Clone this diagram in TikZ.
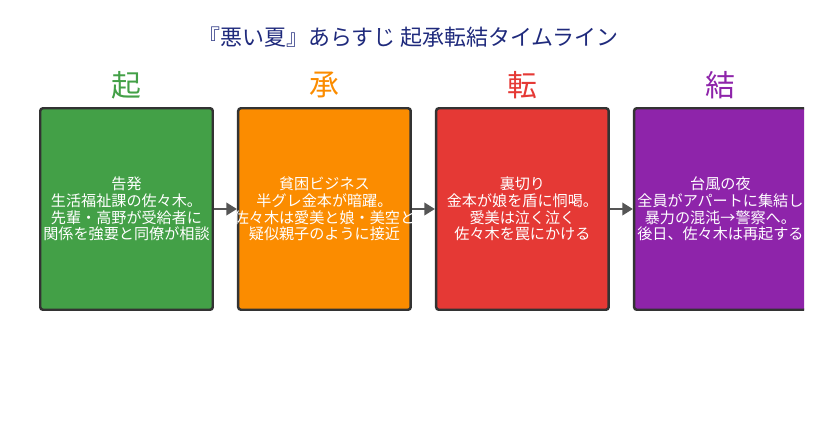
\documentclass[tikz,border=0pt]{standalone}
\usepackage{fontspec}
\setmainfont{Noto Sans CJK JP}
\usetikzlibrary{positioning}
\usetikzlibrary{arrows.meta}
\definecolor{kiGreen}{HTML}{43A047}
\definecolor{shoOrange}{HTML}{FB8C00}
\definecolor{tenRed}{HTML}{E53935}
\definecolor{ketsuPurple}{HTML}{8E24AA}
\definecolor{titleNavy}{HTML}{1F2A7C}
\definecolor{boxline}{HTML}{333333}
\definecolor{flowgray}{HTML}{555555}
\tikzstyle{phase}=[draw=boxline, line width=1.4pt, rounded corners=1.5pt, minimum width=3.45cm, minimum height=4.03cm, text=white, align=center, inner xsep=-6pt, inner ysep=0pt, font=\fontsize{8.6}{9.5}\selectfont]
\tikzstyle{phasehead}=[inner sep=0pt, font=\fontsize{17}{20}\selectfont]
\tikzstyle{flow}=[draw=flowgray, line width=1.4pt, -{Triangle[length=6pt,width=7pt]}]

\begin{document}
\begin{tikzpicture}
  \useasboundingbox (0,0) rectangle (16.32,-8.68);
  \clip (0,0) rectangle (16.08,-8.68);
  \node[text=titleNavy, font=\fontsize{12.5}{15}\selectfont] (ttl) at (8.17,-0.74)
    {『悪い夏』あらすじ 起承転結タイムライン};
  % four phases
  \node[phase, fill=kiGreen] (ki) at (2.53,-4.18)
    {告発\\生活福祉課の佐々木。\\先輩・高野が受給者に\\関係を強要と同僚が相談};
  \node[phase, fill=shoOrange, right=0.46cm of ki] (sho)
    {貧困ビジネス\\半グレ金本が暗躍。\\佐々木は愛美と娘・美空と\\疑似親子のように接近};
  \node[phase, fill=tenRed, right=0.46cm of sho] (ten)
    {裏切り\\金本が娘を盾に恫喝。\\愛美は泣く泣く\\佐々木を罠にかける};
  \node[phase, fill=ketsuPurple, right=0.46cm of ten] (ketsu)
    {台風の夜\\全員がアパートに集結し\\暴力の混沌→警察へ。\\後日、佐々木は再起する};
  \node[phasehead, text=kiGreen] (hki) at ([yshift=0.44cm]ki.north) {起};
  \node[phasehead, text=shoOrange] (hsho) at ([yshift=0.44cm]sho.north) {承};
  \node[phasehead, text=tenRed] (hten) at ([yshift=0.44cm]ten.north) {転};
  \node[phasehead, text=ketsuPurple] (hketsu) at ([yshift=0.44cm]ketsu.north) {結};
  \draw[flow] (ki) -- (sho);
  \draw[flow] (sho) -- (ten);
  \draw[flow] (ten) -- (ketsu);
\end{tikzpicture}
\end{document}
